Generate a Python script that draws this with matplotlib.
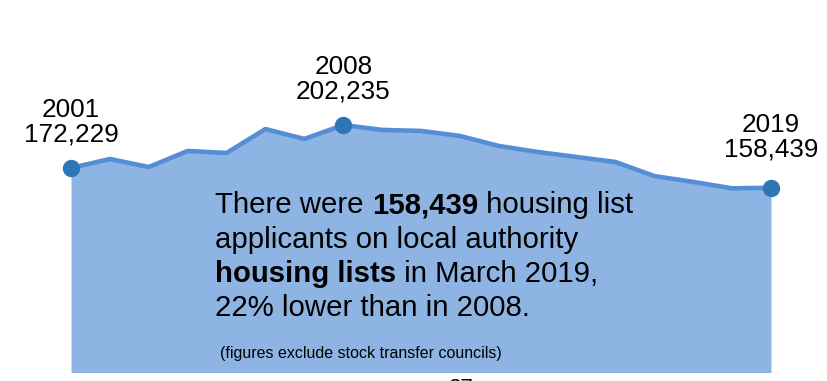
import matplotlib.pyplot as plt

# Housing list applicants, 2001-2019
years = list(range(2001, 2020))
applicants = [172229, 178500, 172900, 184100, 182700, 199400, 192500, 202235,
              198800, 198100, 194600, 187600, 183400, 179900, 176400, 166600,
              162500, 158000, 158439]

labelled = [(2001, "2001\n172,229", 21), (2008, "2008\n202,235", 21), (2019, "2019\n158,439", 26)]

fill_col = "#8EB4E3"
line_col = "#558ED5"
dot_col = "#2E75B6"

plt.rcParams["font.family"] = ["Liberation Sans", "DejaVu Sans"]

fig = plt.figure(figsize=(8.27, 3.81), dpi=100)
ax = fig.add_axes([0, 9 / 381, 1, 372 / 381])
ax.axis("off")
ax.set_xlim(1999.174, 2020.44)
ax.set_ylim(29800, 289493)

ax.fill_between(years, applicants, 0, color=fill_col, linewidth=0)
ax.plot(years, applicants, color=line_col, linewidth=3.3, solid_joinstyle="round")

for yr, label, off in labelled:
    val = applicants[years.index(yr)]
    ax.plot(yr, val, "o", color=dot_col, markersize=11.5, clip_on=False, zorder=5)
    ax.annotate(label, xy=(yr, val), xytext=(0, off), textcoords="offset pixels",
                ha="center", va="bottom", fontsize=18.8, linespacing=1.05,
                annotation_clip=False)

# summary text inside the area
fs = 21.2
x0 = 215 / 827
lines = [
    [("There were ", "normal"), ("158,439", "bold"), (" housing list", "normal")],
    [("applicants on local authority", "normal")],
    [("housing lists", "bold"), (" in March 2019,", "normal")],
    [("22% lower than in 2008.", "normal")],
]
baselines = [213, 248, 282, 316]
fig.canvas.draw()
renderer = fig.canvas.get_renderer()
for parts, yb in zip(lines, baselines):
    x = x0
    for txt, weight in parts:
        t = fig.text(x, 1 - yb / 381, txt, fontsize=fs, fontweight=weight,
                     va="baseline", ha="left", color="black")
        w = t.get_window_extent(renderer=renderer).width
        x += w / 827

fig.text(220 / 827, 1 - 358 / 381, "(figures exclude stock transfer councils)",
         fontsize=11.5, va="baseline", ha="left", color="black")

# page number, cut off by the bottom edge
fig.text(461 / 827, 1 - 378 / 381, "27", fontsize=16, va="top", ha="center")

fig.savefig("out.png", dpi=100)
